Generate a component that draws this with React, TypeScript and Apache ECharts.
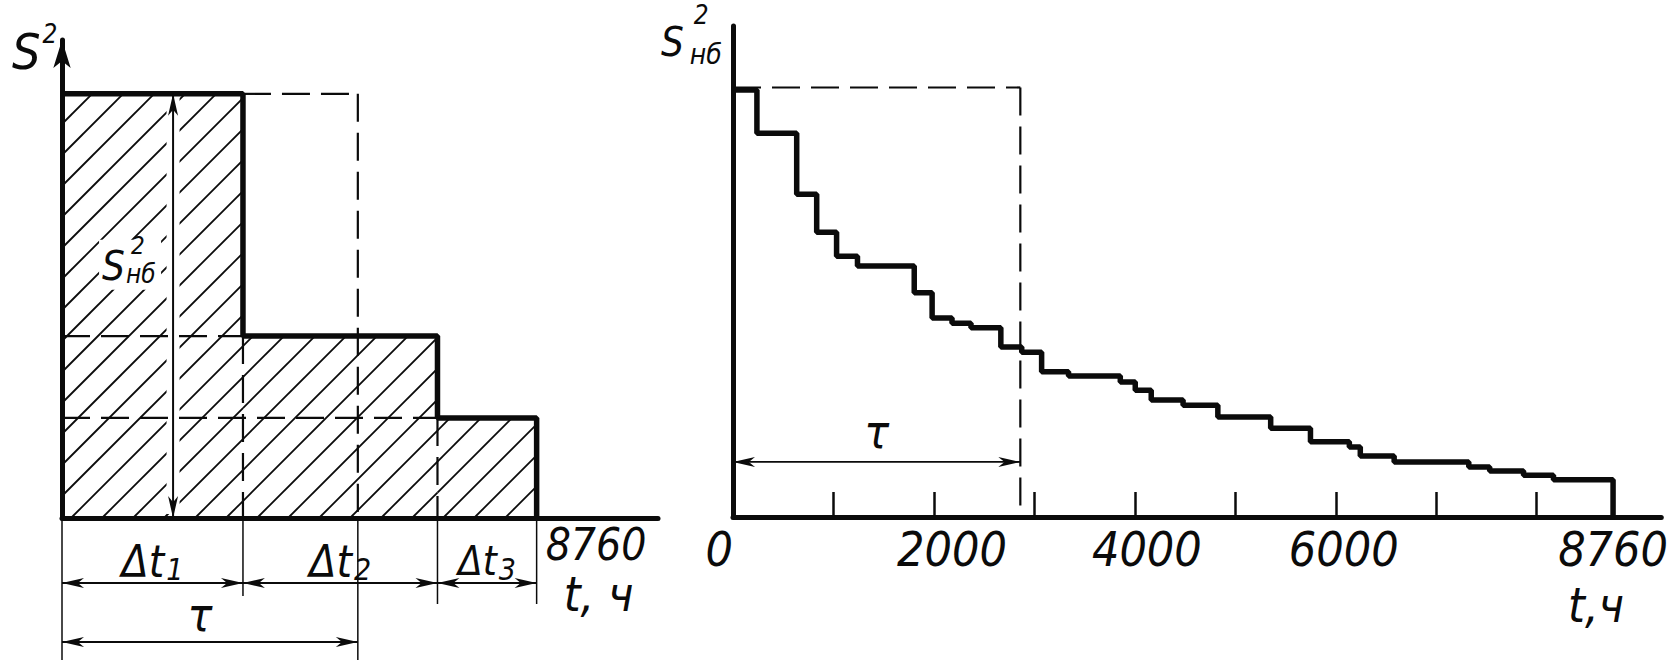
import React, { useEffect, useRef } from "react";
import * as echarts from "echarts";

// ---------------- Data ----------------
const HOURS_PER_YEAR = 8760;

// Left panel: simplified three-step graph (S² in % of S²нб)
const leftStepStart = [0, 3340, 6930];
const leftStepEnd = [3340, 6930, 8760];
const leftStepValue = [100, 42.9, 23.6];
const leftTau = 5460;
const leftArrowHour = 2050;
const leftDtIndex = ["1", "2", "3"];

// Right panel: annual stepped load-duration graph (S² in % of S²нб)
const rightStepStart = [
  0, 238, 634, 833, 1031, 1239, 1804, 1982, 2180, 2369, 2666, 2874, 3072, 3340,
  3855, 4004, 4163, 4480, 4826, 5352, 5748, 6135, 6244, 6581, 7324, 7532, 7869, 8167,
];
const rightStepValue = [
  100, 89.9, 75.6, 66.7, 61.1, 58.8, 52.5, 46.6, 45.4, 44.3, 39.8, 38.6, 34.0, 33.0,
  31.6, 29.7, 27.4, 26.2, 23.4, 20.8, 17.6, 16.4, 14.3, 12.9, 11.7, 10.8, 9.8, 8.7,
];
const rightTau = 2860;
const rightTauArrowValue = 12.9;
const rightTickHours = [1000, 2000, 3000, 4000, 5000, 6000, 7000, 8000];
const rightLabelHours = [0, 2000, 4000, 6000, 8760];

// ---------------- Style ----------------
const FONT = "'Liberation Sans Narrow', 'DejaVu Sans Condensed', 'Liberation Sans', sans-serif";
const INK = "#0b0b0b";
const LEFT_XMAX = 11000;
const LEFT_YMAX = 112.7;
const RIGHT_XMAX = 9240;
const RIGHT_YMAX = 115;
const LABEL_SHIFT: Record<string, number> = { "2000": 18, "4000": 12, "6000": 8 };

let measureCtx: CanvasRenderingContext2D | null = null;
function textWidth(s: string, size: number): number {
  if (!measureCtx) measureCtx = document.createElement("canvas").getContext("2d");
  if (!measureCtx) return s.length * size * 0.5;
  measureCtx.font = `italic ${size}px ${FONT}`;
  return measureCtx.measureText(s).width;
}

const seg = (x1: number, y1: number, x2: number, y2: number, w = 1.6, extra: any = {}) => ({
  type: "line",
  shape: { x1, y1, x2, y2 },
  style: { stroke: INK, lineWidth: w, ...extra },
});

const txt = (x: number, y: number, text: string, size: number, align = "center", vAlign = "middle") => ({
  type: "text",
  x,
  y,
  style: {
    text,
    fill: INK,
    fontSize: size,
    fontFamily: FONT,
    fontStyle: "italic",
    align,
    verticalAlign: vAlign,
  },
});

function head(tx: number, ty: number, ux: number, uy: number, len = 22, half = 5) {
  const bx = tx - ux * len;
  const by = ty - uy * len;
  const nx = -uy;
  const ny = ux;
  return {
    type: "polygon",
    shape: {
      points: [
        [tx, ty],
        [bx + nx * half, by + ny * half],
        [tx - ux * len * 0.72, ty - uy * len * 0.72],
        [bx - nx * half, by - ny * half],
      ],
    },
    style: { fill: INK },
  };
}

function dimArrow(x1: number, y1: number, x2: number, y2: number, w = 1.8) {
  const L = Math.hypot(x2 - x1, y2 - y1) || 1;
  const ux = (x2 - x1) / L;
  const uy = (y2 - y1) / L;
  return [seg(x1, y1, x2, y2, w), head(x1, y1, -ux, -uy), head(x2, y2, ux, uy)];
}

function subLabel(cx: number, cy: number, main: string, sub: string, mSize: number, sSize: number, dy: number) {
  const w1 = textWidth(main, mSize);
  const w2 = textWidth(sub, sSize);
  const x0 = cx - (w1 + w2 + 2) / 2;
  return [txt(x0, cy, main, mSize, "left"), txt(x0 + w1 + 2, cy + dy, sub, sSize, "left")];
}

function sLabel(xLeft: number, cy: number, sSize: number, supSize: number, subSize: number,
  supDx: number, supDy: number, subDx: number, subDy: number, withSub: boolean) {
  const wS = textWidth("S", sSize);
  const out: any[] = [txt(xLeft, cy, "S", sSize, "left"), txt(xLeft + wS + supDx, cy + supDy, "2", supSize, "left")];
  if (withSub) out.push(txt(xLeft + wS + subDx, cy + subDy, "нб", subSize, "left"));
  return out;
}

function hatchRender(params: any, api: any) {
  const s = api.value(0);
  const e = api.value(1);
  const v = api.value(2);
  const [x0, y0] = api.coord([s, v]);
  const [x1, y1] = api.coord([e, 0]);
  const sp = 31;
  const children: any[] = [];
  const cMin = Math.ceil((x0 + y0) / sp) * sp;
  for (let c = cMin; c <= x1 + y1; c += sp) {
    const xs = Math.max(x0, c - y1);
    const xe = Math.min(x1, c - y0);
    if (xe - xs > 0.5) children.push(seg(xs, c - xs, xe, c - xe, 1.8));
  }
  return { type: "group", children };
}

function dashRender(params: any, api: any) {
  const p1 = api.coord([api.value(0), api.value(1)]);
  const p2 = api.coord([api.value(2), api.value(3)]);
  return seg(p1[0], p1[1], p2[0], p2[1], 2.2, { lineDash: [28, 11] });
}

export default function App() {
  const ref = useRef<HTMLDivElement>(null);

  useEffect(() => {
    if (!ref.current) return;
    const chart = echarts.init(ref.current, undefined, { renderer: "svg" });

    const leftOutline = leftStepStart.map((s, i) => [s, leftStepValue[i]]);
    leftOutline.push([HOURS_PER_YEAR, leftStepValue[leftStepValue.length - 1]], [HOURS_PER_YEAR, 0]);
    const rightOutline = rightStepStart.map((s, i) => [s, rightStepValue[i]]);
    rightOutline.push([HOURS_PER_YEAR, rightStepValue[rightStepValue.length - 1]], [HOURS_PER_YEAR, 0]);

    const leftHatch = leftStepStart.map((s, i) => [s, leftStepEnd[i], leftStepValue[i]]);
    const leftDashes: number[][] = [
      [leftStepEnd[0], leftStepValue[0], leftTau, leftStepValue[0]],
      [leftTau, leftStepValue[0], leftTau, 0],
      [0, leftStepValue[1], leftStepEnd[0], leftStepValue[1]],
      [0, leftStepValue[2], leftStepEnd[1], leftStepValue[2]],
      [leftStepEnd[0], leftStepValue[1], leftStepEnd[0], 0],
      [leftStepEnd[1], leftStepValue[2], leftStepEnd[1], 0],
    ];
    const rightDashes: number[][] = [
      [0, rightStepValue[0] + 0.6, rightTau, rightStepValue[0] + 0.6],
      [rightTau, rightStepValue[0] + 0.6, rightTau, 0],
    ];

    const leftMask = (params: any, api: any) => {
      const [xv, yTop] = api.coord([leftArrowHour, leftStepValue[0]]);
      const [, baseY] = api.coord([leftArrowHour, 0]);
      return {
        type: "group",
        children: [
          seg(xv, yTop + 4, xv, baseY - 4, 13, { stroke: "#fff" }),
          { type: "rect", shape: { x: xv - 74, y: yTop + 146, width: 62, height: 50 }, style: { fill: "#fff" } },
        ],
      };
    };

    const leftAnnot = (params: any, api: any) => {
      const [xA, baseY] = api.coord([0, 0]);
      const bounds = [0, ...leftStepEnd];
      const px = bounds.map((h) => api.coord([h, 0])[0]);
      const xTau = api.coord([leftTau, 0])[0];
      const ch: any[] = [];
      const ext = [142, 78, 86, 86];
      px.forEach((x, i) => ch.push(seg(x, baseY + 2, x, baseY + ext[i], 1.5)));
      ch.push(seg(xTau, baseY + 2, xTau, baseY + 142, 1.5));
      const dtY = baseY + 65;
      for (let i = 0; i < 3; i++) {
        ch.push(...dimArrow(px[i], dtY, px[i + 1], dtY));
        ch.push(...subLabel((px[i] + px[i + 1]) / 2, dtY - 22, "Δt", leftDtIndex[i], i === 2 ? 40 : 44, 30, 8));
      }
      const tauY = baseY + 124;
      ch.push(...dimArrow(xA, tauY, xTau, tauY));
      ch.push(txt((xA + xTau) / 2 - 10, tauY - 27, "τ", 46));
      ch.push(txt(px[3] + 9, baseY + 26, String(HOURS_PER_YEAR), 44, "left"));
      ch.push(txt(px[3] + 62, baseY + 76, "t, ч", 48));
      const [xv, yTop] = api.coord([leftArrowHour, leftStepValue[0]]);
      ch.push(...dimArrow(xv, yTop, xv, baseY, 2));
      ch.push(...sLabel(xv - 71, yTop + 172, 40, 24, 26, 6, -20, 1, 8, true));
      const [, axisTop] = api.coord([0, LEFT_YMAX]);
      ch.push(...sLabel(xA - 50, axisTop + 12, 50, 26, 24, 2, -18, 0, 0, false));
      return { type: "group", children: ch };
    };

    const rightAnnot = (params: any, api: any) => {
      const [xA, baseY] = api.coord([0, 0]);
      const [xT, yArr] = api.coord([rightTau, rightTauArrowValue]);
      const xEnd = api.coord([HOURS_PER_YEAR, 0])[0];
      const [, axisTop] = api.coord([0, RIGHT_YMAX]);
      const ch: any[] = [];
      ch.push(...dimArrow(xA, yArr, xT, yArr));
      ch.push(txt((xA + xT) / 2, yArr - 30, "τ", 46));
      ch.push(txt(xEnd - 17, baseY + 88, "t,ч", 48));
      ch.push(...sLabel(xA - 72, axisTop + 16, 40, 26, 28, 10, -27, 6, 12, true));
      return { type: "group", children: ch };
    };

    const axisLineStyle = { color: INK, width: 5 };
    const labelFont = { fontSize: 48, fontStyle: "italic", fontFamily: FONT, color: INK };
    const labelRich: Record<string, any> = {};
    Object.keys(LABEL_SHIFT).forEach((k) => {
      labelRich["p" + k] = { ...labelFont, padding: [0, 0, 0, 2 * LABEL_SHIFT[k]] };
    });

    chart.setOption({
      animation: false,
      backgroundColor: "#fff",
      grid: [
        { left: 62, top: 40, width: 596, height: 478 },
        { left: 733, top: 26, width: 932, height: 491 },
      ],
      xAxis: [
        {
          type: "value", gridIndex: 0, min: 0, max: LEFT_XMAX, z: 6,
          axisLine: { show: true, onZero: false, lineStyle: axisLineStyle },
          axisTick: { show: false }, axisLabel: { show: false }, splitLine: { show: false },
        },
        {
          type: "value", gridIndex: 1, min: 0, max: RIGHT_XMAX, z: 6,
          axisLine: { show: true, onZero: false, lineStyle: axisLineStyle },
          axisTick: { show: true, inside: true, length: 25, customValues: rightTickHours, lineStyle: { color: INK, width: 2.5 } },
          axisLabel: {
            show: true, customValues: rightLabelHours, margin: 8, ...labelFont,
            alignMinLabel: "right", rich: labelRich,
            formatter: (v: number) => (LABEL_SHIFT[String(v)] ? `{p${v}|${v}}` : String(v)),
          },
          splitLine: { show: false },
        },
      ],
      yAxis: [
        {
          type: "value", gridIndex: 0, min: 0, max: LEFT_YMAX, z: 6,
          axisLine: { show: true, onZero: false, symbol: ["none", "arrow"], symbolSize: [13, 28], lineStyle: axisLineStyle },
          axisTick: { show: false }, axisLabel: { show: false }, splitLine: { show: false },
        },
        {
          type: "value", gridIndex: 1, min: 0, max: RIGHT_YMAX, z: 6,
          axisLine: { show: true, onZero: false, lineStyle: axisLineStyle },
          axisTick: { show: false }, axisLabel: { show: false }, splitLine: { show: false },
        },
      ],
      series: [
        {
          type: "custom", xAxisIndex: 0, yAxisIndex: 0, z: 1, silent: true, clip: false,
          encode: { x: [0, 1], y: 2 }, data: leftHatch, renderItem: hatchRender,
        },
        {
          type: "custom", xAxisIndex: 0, yAxisIndex: 0, z: 2, silent: true, clip: false,
          data: [[0, 0]], renderItem: leftMask,
        },
        {
          type: "custom", xAxisIndex: 0, yAxisIndex: 0, z: 3, silent: true, clip: false,
          encode: { x: [0, 2], y: [1, 3] }, data: leftDashes, renderItem: dashRender,
        },
        {
          type: "line", xAxisIndex: 0, yAxisIndex: 0, z: 4, step: "end", symbol: "none", clip: false,
          lineStyle: { color: INK, width: 5.5 }, data: leftOutline, silent: true,
        },
        {
          type: "custom", xAxisIndex: 0, yAxisIndex: 0, z: 7, silent: true, clip: false,
          data: [[0, 0]], renderItem: leftAnnot,
        },
        {
          type: "custom", xAxisIndex: 1, yAxisIndex: 1, z: 3, silent: true, clip: false,
          encode: { x: [0, 2], y: [1, 3] }, data: rightDashes, renderItem: dashRender,
        },
        {
          type: "line", xAxisIndex: 1, yAxisIndex: 1, z: 4, step: "end", symbol: "none", clip: false,
          lineStyle: { color: INK, width: 5.5 }, data: rightOutline, silent: true,
        },
        {
          type: "custom", xAxisIndex: 1, yAxisIndex: 1, z: 7, silent: true, clip: false,
          data: [[0, 0]], renderItem: rightAnnot,
        },
      ],
    });

    return () => chart.dispose();
  }, []);

  return (
    <div
      ref={ref}
      style={{ position: "fixed", left: 0, top: 0, width: 1671, height: 661, background: "#fff" }}
    />
  );
}
